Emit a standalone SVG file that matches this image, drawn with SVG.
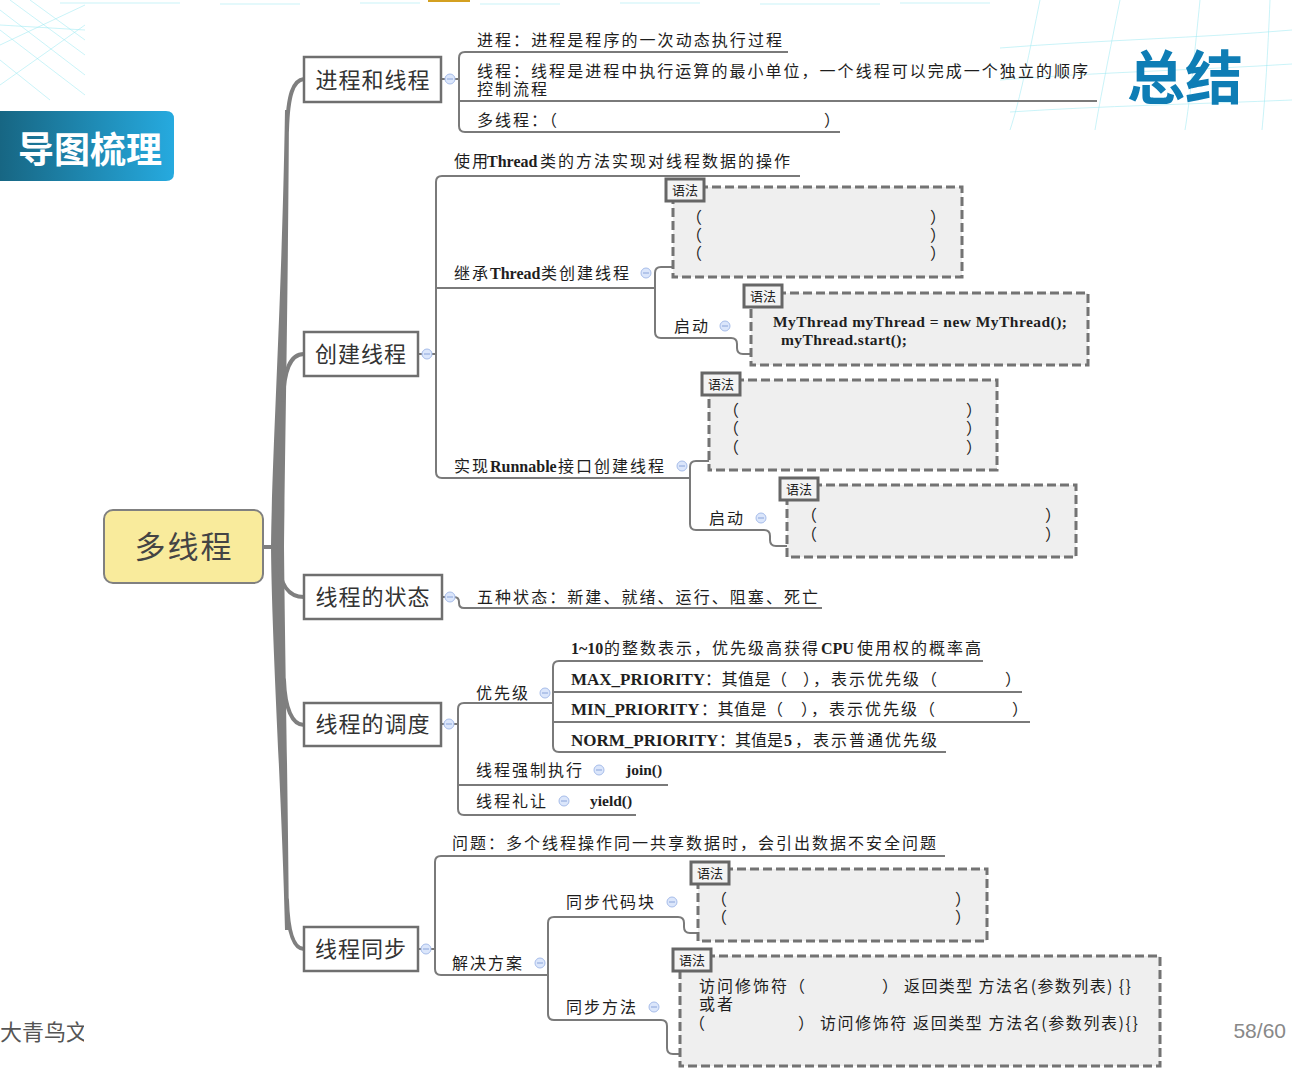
<svg xmlns="http://www.w3.org/2000/svg" width="1292" height="1077" viewBox="0 0 1292 1077">
<defs>
<linearGradient id="bannerG" x1="0" y1="0" x2="1" y2="0">
<stop offset="0" stop-color="#176683"/>
<stop offset="1" stop-color="#26aadf"/>
</linearGradient>
<clipPath id="footClip"><rect x="0" y="1000" width="84" height="60"/></clipPath>
<style>
.t{font-family:"Noto Sans CJK SC","Noto Sans",sans-serif;font-size:16px;fill:#1e1e1e;letter-spacing:2px}
.b{font-family:"Liberation Serif","Noto Sans CJK SC",serif;font-weight:bold;letter-spacing:0}
.l1{font-family:"Noto Sans CJK SC",sans-serif;font-size:22px;fill:#333;text-anchor:middle;letter-spacing:1px}
.box1{fill:#fff;stroke:#6f6f6f;stroke-width:2.5}
.ln{fill:none;stroke:#7a7a7a;stroke-width:2;stroke-linejoin:round}
.tr{fill:none;stroke:#7f7f7f;stroke-linecap:round}
.dash{fill:#efefef;stroke:#737373;stroke-width:3;stroke-dasharray:9 4}
.lab{fill:#f3f3f3;stroke:#666;stroke-width:3}
.labt{font-family:"Noto Sans CJK SC",sans-serif;font-size:13px;fill:#222;text-anchor:middle}
.cir{fill:#dbe6fb;stroke:#a7bdea;stroke-width:1}
.min{stroke:#8aa4da;stroke-width:1}
.deco{stroke:#9feaf3;stroke-width:1;fill:none;opacity:0.55}
</style>
</defs>
<rect width="1292" height="1077" fill="#ffffff"/>

<!-- decoration -->
<g id="decoration">
<path class="deco" d="M0,10 L85,75 M10,0 L85,55 M0,30 L85,95 M0,60 L50,100 M30,0 L85,40 M0,45 L85,5 M0,85 L85,25 M0,25 L85,30"/>
<path class="deco" d="M60,3 H180 M220,4 H300 M360,3 H420 M480,4 H560 M620,3 H700 M760,4 H880 M900,3 H990"/>
<path class="deco" d="M1000,48 C1100,40 1200,38 1292,30 M1000,80 C1100,72 1200,70 1292,64 M1010,112 C1100,106 1200,104 1292,100 M1040,0 C1030,50 1020,100 1010,130 M1120,0 C1110,50 1100,100 1095,130 M1200,0 C1195,50 1190,100 1185,130 M1270,0 C1268,50 1265,100 1262,130"/>
<rect x="428" y="0" width="42" height="2" fill="#d4a020"/>
</g>

<!-- banner -->
<g id="banner">
<path d="M0,111 H166 Q174,111 174,119 V173 Q174,181 166,181 H0 Z" fill="url(#bannerG)"/>
<text x="90" y="163" font-family="Noto Sans CJK SC,sans-serif" font-size="36" font-weight="bold" fill="#fff" text-anchor="middle">导图梳理</text>
</g>
<g id="title">
<text x="1185" y="99" font-family="Noto Sans CJK SC,sans-serif" font-size="58" font-weight="bold" fill="#0e7db5" text-anchor="middle">总结</text>
</g>
<g id="footer">
<text x="0" y="1040" clip-path="url(#footClip)" font-family="Noto Sans CJK SC,sans-serif" font-size="22" fill="#555">大青鸟文</text>
<text x="1286" y="1038" font-family="Liberation Sans,Arial,sans-serif" font-size="21" fill="#888" text-anchor="end">58/60</text>
</g>

<!-- connectors -->
<g id="connectors">
<path d="M285,110 C282,300 272,450 271,547 C272,650 282,800 285,930 L289,930 C288,800 285,650 284,547 C285,450 288,300 289,110 Z" fill="#7f7f7f"/>
<path class="tr" stroke-width="4" d="M262,547 H276"/>
<path class="tr" stroke-width="4" d="M287,130 C288,95 293,80 304,79"/>
<path class="tr" stroke-width="4" d="M283,400 C284,370 290,354 304,354"/>
<path class="tr" stroke-width="4" d="M278,560 C280,585 288,597 304,597"/>
<path class="tr" stroke-width="4" d="M284,680 C285,708 292,725 304,725"/>
<path class="tr" stroke-width="4" d="M287,900 C288,930 293,949 304,949"/>

<!-- branch 1 -->
<path class="ln" d="M441,79 H459"/>
<path class="ln" d="M788,52 H465 Q459,52 459,58 V126 Q459,132 465,132 H840"/>
<path class="ln" d="M459,101 H1097"/>
<!-- branch 2 -->
<path class="ln" d="M418,354 H436"/>
<path class="ln" d="M800,176 H442 Q436,176 436,182 V472 Q436,478 442,478 H690"/>
<path class="ln" d="M436,288 H655"/>
<path class="ln" d="M955,267 H661 Q655,267 655,273 V332 Q655,338 661,338 H731 Q737,338 737,344 V348 Q737,354 743,354 H1077"/>
<path class="ln" d="M990,461 H696 Q690,461 690,467 V524 Q690,530 696,530 H764 Q770,530 770,536 V540 Q770,546 776,546 H1070"/>
<!-- branch 3 -->
<path class="ln" d="M441,597 H454 Q459,597 459,602 V603 Q459,608 464,608 H822"/>
<!-- branch 4 -->
<path class="ln" d="M441,724 H458"/>
<path class="ln" d="M553,703 H464 Q458,703 458,709 V809 Q458,815 464,815 H636"/>
<path class="ln" d="M458,785 H668"/>
<path class="ln" d="M983,661 H559 Q553,661 553,667 V746 Q553,752 559,752 H946"/>
<path class="ln" d="M553,692 H1022"/>
<path class="ln" d="M553,722 H1030"/>
<!-- branch 5 -->
<path class="ln" d="M418,949 H435"/>
<path class="ln" d="M945,856 H441 Q435,856 435,862 V969 Q435,975 441,975 H548"/>
<path class="ln" d="M980,933 H690 Q684,933 684,927 V923 Q684,917 678,917 H554 Q548,917 548,923 V1014 Q548,1020 554,1020 H661 Q667,1020 667,1026 V1048 Q667,1054 673,1054 H1150"/>
</g>

<!-- root -->
<g id="root">
<rect x="104" y="510" width="159" height="73" rx="9" fill="#f9eb9c" stroke="#808080" stroke-width="2"/>
<text x="184" y="558" font-family="Noto Sans CJK SC,sans-serif" font-size="31" fill="#444" text-anchor="middle" letter-spacing="2">多线程</text>
</g>

<!-- level 1 nodes -->
<g id="n-process">
<rect class="box1" x="304" y="57" width="137" height="45"/>
<text class="l1" x="373" y="88">进程和线程</text>
<circle class="cir" cx="450" cy="79" r="5"/><path class="min" d="M447,79 H453"/>
</g>
<g id="n-create">
<rect class="box1" x="304" y="332" width="114" height="44"/>
<text class="l1" x="361" y="362">创建线程</text>
<circle class="cir" cx="427" cy="354" r="5"/><path class="min" d="M424,354 H430"/>
</g>
<g id="n-state">
<rect class="box1" x="304" y="575" width="138" height="44"/>
<text class="l1" x="373" y="605">线程的状态</text>
<circle class="cir" cx="450" cy="597" r="5"/><path class="min" d="M447,597 H453"/>
</g>
<g id="n-sched">
<rect class="box1" x="304" y="703" width="137" height="43"/>
<text class="l1" x="373" y="732">线程的调度</text>
<circle class="cir" cx="449" cy="724" r="5"/><path class="min" d="M446,724 H452"/>
</g>
<g id="n-sync">
<rect class="box1" x="304" y="927" width="114" height="44"/>
<text class="l1" x="361" y="957">线程同步</text>
<circle class="cir" cx="426" cy="949" r="5"/><path class="min" d="M423,949 H429"/>
</g>

<!-- branch 1 children -->
<g id="n-process-def"><text class="t" x="477" y="46" textLength="307">进程：进程是程序的一次动态执行过程</text></g>
<g id="n-thread-def">
<text class="t" x="477" y="77" textLength="613">线程：线程是进程中执行运算的最小单位，一个线程可以完成一个独立的顺序</text>
<text class="t" x="477" y="95">控制流程</text>
</g>
<g id="n-multi"><text class="t" x="477" y="126">多线程：（<tspan x="824">）</tspan></text></g>

<!-- branch 2 children -->
<g id="n-usethread"><text class="t" x="454" y="167">使用<tspan class="b" x="487">Thread</tspan><tspan x="540">类的方法实现对线程数据的操作</tspan></text></g>
<g id="n-extend">
<text class="t" x="454" y="279">继承<tspan class="b" x="490">Thread</tspan><tspan x="541">类创建线程</tspan></text>
<circle class="cir" cx="646" cy="273" r="5"/><path class="min" d="M643,273 H649"/>
</g>
<g id="n-extend-syntax">
<rect class="dash" x="673" y="187" width="289" height="90"/>
<rect class="lab" x="666" y="179" width="38" height="22"/>
<text class="labt" x="685" y="195">语法</text>
<text class="t" x="686" y="223">（</text><text class="t" x="930" y="223">）</text>
<text class="t" x="686" y="241">（</text><text class="t" x="930" y="241">）</text>
<text class="t" x="686" y="259">（</text><text class="t" x="930" y="259">）</text>
</g>
<g id="n-extend-start">
<text class="t" x="674" y="332">启动</text>
<circle class="cir" cx="725" cy="326" r="5"/><path class="min" d="M722,326 H728"/>
</g>
<g id="n-extend-start-syntax">
<rect class="dash" x="751" y="293" width="337" height="72"/>
<rect class="lab" x="744" y="285" width="38" height="22"/>
<text class="labt" x="763" y="301">语法</text>
<text class="b" x="773" y="327" font-size="15.5" fill="#1e1e1e" textLength="294">MyThread myThread = new MyThread();</text>
<text class="b" x="781" y="345" font-size="15.5" fill="#1e1e1e" textLength="126">myThread.start();</text>
</g>
<g id="n-runnable">
<text class="t" x="454" y="472">实现<tspan class="b" x="490">Runnable</tspan><tspan x="558">接口创建线程</tspan></text>
<circle class="cir" cx="682" cy="466" r="5"/><path class="min" d="M679,466 H685"/>
</g>
<g id="n-runnable-syntax">
<rect class="dash" x="709" y="380" width="288" height="90"/>
<rect class="lab" x="702" y="373" width="38" height="22"/>
<text class="labt" x="721" y="389">语法</text>
<text class="t" x="723" y="416">（</text><text class="t" x="966" y="416">）</text>
<text class="t" x="723" y="434">（</text><text class="t" x="966" y="434">）</text>
<text class="t" x="723" y="453">（</text><text class="t" x="966" y="453">）</text>
</g>
<g id="n-runnable-start">
<text class="t" x="709" y="524">启动</text>
<circle class="cir" cx="761" cy="518" r="5"/><path class="min" d="M758,518 H764"/>
</g>
<g id="n-runnable-start-syntax">
<rect class="dash" x="787" y="485" width="289" height="72"/>
<rect class="lab" x="780" y="478" width="38" height="22"/>
<text class="labt" x="799" y="494">语法</text>
<text class="t" x="801" y="521">（</text><text class="t" x="1045" y="521">）</text>
<text class="t" x="801" y="540">（</text><text class="t" x="1045" y="540">）</text>
</g>

<!-- branch 3 children -->
<g id="n-states"><text class="t" x="477" y="603" textLength="343">五种状态：新建、就绪、运行、阻塞、死亡</text></g>

<!-- branch 4 children -->
<g id="n-priority">
<text class="t" x="476" y="699">优先级</text>
<circle class="cir" cx="545" cy="693" r="5"/><path class="min" d="M542,693 H548"/>
</g>
<g id="n-prio-range"><text class="t" x="571" y="654"><tspan class="b">1~10</tspan><tspan x="604">的整数表示，优先级高获得</tspan><tspan class="b" x="821">CPU</tspan><tspan x="857">使用权的概率高</tspan></text></g>
<g id="n-prio-max"><text class="t" x="571" y="685"><tspan class="b" font-size="17">MAX_PRIORITY</tspan><tspan x="705" style="letter-spacing:0.5px">：其值是（</tspan><tspan x="803">），表示优先级（</tspan><tspan x="1005">）</tspan></text></g>
<g id="n-prio-min"><text class="t" x="571" y="715"><tspan class="b" font-size="17">MIN_PRIORITY</tspan><tspan x="701" style="letter-spacing:0.5px">：其值是（</tspan><tspan x="801">），表示优先级（</tspan><tspan x="1012">）</tspan></text></g>
<g id="n-prio-norm"><text class="t" x="571" y="746"><tspan class="b" font-size="17">NORM_PRIORITY</tspan><tspan x="719" style="letter-spacing:0">：其值是</tspan><tspan class="b" x="784">5</tspan><tspan x="795">，表示普通优先级</tspan></text></g>
<g id="n-join">
<text class="t" x="476" y="776">线程强制执行</text>
<circle class="cir" cx="599" cy="770" r="5"/><path class="min" d="M596,770 H602"/>
<text class="b" x="626" y="775" font-size="15.5" fill="#1e1e1e">join()</text>
</g>
<g id="n-yield">
<text class="t" x="476" y="807">线程礼让</text>
<circle class="cir" cx="564" cy="801" r="5"/><path class="min" d="M561,801 H567"/>
<text class="b" x="590" y="806" font-size="15.5" fill="#1e1e1e">yield()</text>
</g>

<!-- branch 5 children -->
<g id="n-problem"><text class="t" x="452" y="849" textLength="486">问题：多个线程操作同一共享数据时，会引出数据不安全问题</text></g>
<g id="n-solution">
<text class="t" x="452" y="969">解决方案</text>
<circle class="cir" cx="540" cy="963" r="5"/><path class="min" d="M537,963 H543"/>
</g>
<g id="n-syncblock">
<text class="t" x="566" y="908">同步代码块</text>
<circle class="cir" cx="672" cy="902" r="5"/><path class="min" d="M669,902 H675"/>
</g>
<g id="n-syncblock-syntax">
<rect class="dash" x="698" y="869" width="289" height="72"/>
<rect class="lab" x="691" y="862" width="38" height="22"/>
<text class="labt" x="710" y="878">语法</text>
<text class="t" x="711" y="905">（</text><text class="t" x="955" y="905">）</text>
<text class="t" x="711" y="923">（</text><text class="t" x="955" y="923">）</text>
</g>
<g id="n-syncmethod">
<text class="t" x="566" y="1013">同步方法</text>
<circle class="cir" cx="654" cy="1007" r="5"/><path class="min" d="M651,1007 H657"/>
</g>
<g id="n-syncmethod-syntax">
<rect class="dash" x="680" y="956" width="480" height="110"/>
<rect class="lab" x="673" y="949" width="38" height="22"/>
<text class="labt" x="692" y="965">语法</text>
<text class="t" x="699" y="992">访问修饰符（<tspan x="882">）</tspan><tspan x="904" textLength="229">返回类型 方法名(参数列表) {}</tspan></text>
<text class="t" x="699" y="1010">或者</text>
<text class="t" x="689" y="1029">（<tspan x="798">）</tspan><tspan x="820" textLength="320">访问修饰符 返回类型 方法名(参数列表){}</tspan></text>
</g>
</svg>
